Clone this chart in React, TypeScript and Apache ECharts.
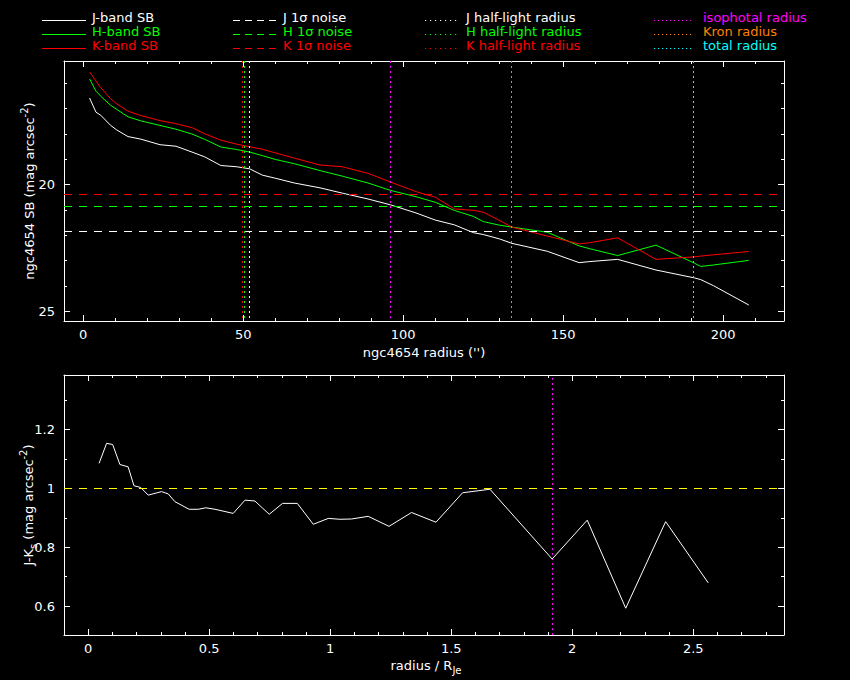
import { useEffect, useRef } from "react";
import * as echarts from "echarts";

// ---------- surface-brightness profiles (top panel) ----------
const radius = [2, 4, 5.5, 8.5, 10.5, 14, 18, 24, 29, 34, 38, 43, 48, 52, 56, 60, 66, 74, 81, 89, 96, 104, 110, 116, 122, 125, 130, 134, 145, 155, 158, 167, 179, 191, 193, 197, 208];
const jBandSB = [16.59, 17.15, 17.27, 17.66, 17.85, 18.11, 18.21, 18.43, 18.49, 18.72, 18.91, 19.25, 19.3, 19.38, 19.63, 19.75, 19.94, 20.13, 20.34, 20.57, 20.8, 21.12, 21.4, 21.59, 21.9, 21.97, 22.14, 22.32, 22.63, 23.08, 23.04, 22.95, 23.37, 23.68, 23.75, 23.99, 24.75];
const hBandSB = [15.84, 16.32, 16.52, 16.87, 17.04, 17.33, 17.49, 17.67, 17.82, 18.01, 18.22, 18.52, 18.62, 18.72, 18.86, 19.01, 19.18, 19.45, 19.67, 19.94, 20.23, 20.48, 20.7, 21.02, 21.26, 21.46, 21.6, 21.68, 21.88, 22.42, 22.52, 22.8, 22.39, 23.1, 23.23, 23.17, 22.99];
const kBandSB = [15.56, 15.92, 16.18, 16.61, 16.82, 17.11, 17.28, 17.48, 17.6, 17.76, 18.0, 18.25, 18.41, 18.51, 18.61, 18.75, 18.96, 19.23, 19.3, 19.56, 19.9, 20.28, 20.5, 20.96, 21.02, 21.09, 21.41, 21.68, 22.03, 22.34, 22.3, 22.1, 22.95, 22.85, 22.82, 22.77, 22.64];

const jNoise = 21.86;
const hNoise = 20.84;
const kNoise = 20.37;
const jHalfLight = 51.9;
const hHalfLight = 50.3;
const kHalfLight = 49.8;
const isophotalRadius = 95.9;
const kronRadius = 133.9;
const totalRadius = 190.6;

// ---------- colour profile (bottom panel) ----------
const scaledRadius = [0.045, 0.076, 0.101, 0.131, 0.165, 0.189, 0.217, 0.248, 0.303, 0.331, 0.358, 0.417, 0.455, 0.486, 0.524, 0.599, 0.648, 0.689, 0.748, 0.803, 0.864, 0.93, 0.992, 1.04, 1.088, 1.157, 1.243, 1.336, 1.437, 1.547, 1.66, 1.917, 2.062, 2.221, 2.386, 2.562];
const jMinusK = [1.085, 1.153, 1.149, 1.081, 1.073, 1.009, 1.003, 0.977, 0.989, 0.981, 0.955, 0.929, 0.929, 0.934, 0.929, 0.915, 0.96, 0.957, 0.912, 0.949, 0.949, 0.878, 0.898, 0.895, 0.896, 0.905, 0.871, 0.918, 0.885, 0.985, 0.997, 0.76, 0.892, 0.593, 0.887, 0.679];
const colourReference = 1.0;
const isophotalScaled = 1.9185;

// ---------- axis ranges & ticks ----------
const sbRangeX = [-6.0, 219.0];
const sbRangeY = [15.13, 25.38];
const colRangeX = [-0.1, 2.875];
const colRangeY = [0.502, 1.385];
const sbMajorX = [0, 50, 100, 150, 200];
const sbMinorX = [10, 20, 30, 40, 60, 70, 80, 90, 110, 120, 130, 140, 160, 170, 180, 190, 210];
const sbMajorY = [20, 25];
const sbMinorY = [16, 17, 18, 19, 21, 22, 23, 24];
const colMajorX = [0, 0.5, 1, 1.5, 2, 2.5];
const colMinorX = [0.1, 0.2, 0.3, 0.4, 0.6, 0.7, 0.8, 0.9, 1.1, 1.2, 1.3, 1.4, 1.6, 1.7, 1.8, 1.9, 2.1, 2.2, 2.3, 2.4, 2.6, 2.7, 2.8];
const colMajorY = [0.6, 0.8, 1, 1.2];
const colMinorY = [0.7, 0.9, 1.1, 1.3];

const FONT = '"DejaVu Sans", sans-serif';
const FS = 13;
const WHITE = "#ffffff";
const GREEN = "#00ff00";
const RED = "#ff0000";
const MAGENTA = "#ff00ff";
const ORANGE = "#ff8000";
const CYAN = "#00ffff";
const YELLOW = "#ffff00";

const fmt = (v: number) => String(Math.round(v * 100) / 100);

function axisSet(kind: "x" | "y", gridIndex: number, range: number[], major: number[], minor: number[], inverse = false) {
  const posA = kind === "x" ? "bottom" : "left";
  const posB = kind === "x" ? "top" : "right";
  const base: any = {
    type: "value",
    gridIndex,
    min: range[0],
    max: range[1],
    inverse,
    silent: true,
    splitLine: { show: false },
    axisLine: { show: false, onZero: false },
    axisLabel: { show: false },
    axisTick: { show: false },
  };
  const tick = (vals: number[], len: number) => ({ show: true, inside: true, length: len, customValues: vals, lineStyle: { color: WHITE, width: 1 } });
  return [
    {
      ...base,
      position: posA,
      axisLine: { show: true, onZero: false, lineStyle: { color: WHITE, width: 1 } },
      axisTick: tick(major, 6),
      axisLabel: { show: true, customValues: major, color: WHITE, fontFamily: FONT, fontSize: FS, margin: kind === "x" ? 7 : 9, formatter: fmt },
    },
    { ...base, position: posA, axisTick: tick(minor, 3) },
    { ...base, position: posB, axisLine: { show: true, onZero: false, lineStyle: { color: WHITE, width: 1 } }, axisTick: tick(major, 6) },
    { ...base, position: posB, axisTick: tick(minor, 3) },
  ];
}

const vLine = (x: number, color: string) => ({ xAxis: x, lineStyle: { color, type: [2, 3], width: 1, opacity: 1 } });
const hLine = (y: number, color: string) => ({ yAxis: y, lineStyle: { color, type: [8, 7], width: 1, opacity: 1 } });

function legendItems() {
  const rows = [17, 31, 45];
  const out: any[] = [];
  const add = (x1: number, x2: number, tx: number, row: number, color: string, dash: number[] | null, label: string) => {
    out.push({
      type: "line",
      shape: { x1, y1: rows[row] + 3.5, x2, y2: rows[row] + 3.5 },
      style: { stroke: color, lineWidth: 1, lineDash: dash || undefined },
      silent: true,
    });
    out.push({
      type: "text",
      x: tx,
      y: rows[row],
      style: { text: label, fill: color, fontFamily: FONT, fontSize: FS, verticalAlign: "middle", align: "left" },
      silent: true,
    });
  };
  add(42, 86, 92, 0, WHITE, null, "J-band SB");
  add(42, 86, 92, 1, GREEN, null, "H-band SB");
  add(42, 86, 92, 2, RED, null, "K-band SB");
  add(233, 277, 283, 0, WHITE, [7, 5], "J 1σ noise");
  add(233, 277, 283, 1, GREEN, [7, 5], "H 1σ noise");
  add(233, 277, 283, 2, RED, [7, 5], "K 1σ noise");
  add(425, 457, 466, 0, WHITE, [1.2, 3.8], "J half-light radius");
  add(425, 457, 466, 1, GREEN, [1.2, 3.8], "H half-light radius");
  add(425, 457, 466, 2, RED, [1.2, 3.8], "K half-light radius");
  add(654, 693, 703, 0, MAGENTA, [1.2, 2.8], "isophotal radius");
  add(654, 693, 703, 1, ORANGE, [1.2, 2.8], "Kron radius");
  add(654, 693, 703, 2, CYAN, [1.2, 2.8], "total radius");
  return out;
}

const titleStyle = (text: string) => ({
  text,
  fill: WHITE,
  fontFamily: FONT,
  fontSize: FS,
  lineHeight: 20,
  align: "center",
  verticalAlign: "middle",
  rich: {
    sup: { fontSize: 10, lineHeight: 10, verticalAlign: "top", fill: WHITE, fontFamily: FONT },
    sub: { fontSize: 10, lineHeight: 10, verticalAlign: "bottom", fill: WHITE, fontFamily: FONT },
  },
});

export default function App() {
  const ref = useRef<HTMLDivElement>(null);
  useEffect(() => {
    if (!ref.current) return;
    const chart = echarts.init(ref.current, null, { renderer: "svg" });
    const sbLine = (name: string, values: number[], color: string, marks: any[]) => ({
      name,
      type: "line",
      xAxisIndex: 0,
      yAxisIndex: 0,
      data: radius.map((r, i) => [r, values[i]]),
      symbol: "none",
      lineStyle: { color, width: 1 },
      itemStyle: { color },
      silent: true,
      markLine: { silent: true, symbol: ["none", "none"], label: { show: false }, data: marks },
    });
    chart.setOption({
      animation: false,
      backgroundColor: "#000000",
      grid: [
        { left: 64, top: 61, width: 720, height: 260 },
        { left: 64, top: 375, width: 720, height: 260 },
      ],
      xAxis: [...axisSet("x", 0, sbRangeX, sbMajorX, sbMinorX), ...axisSet("x", 1, colRangeX, colMajorX, colMinorX)],
      yAxis: [...axisSet("y", 0, sbRangeY, sbMajorY, sbMinorY, true), ...axisSet("y", 1, colRangeY, colMajorY, colMinorY)],
      series: [
        sbLine("J-band SB", jBandSB, WHITE, [hLine(jNoise, WHITE), vLine(jHalfLight, WHITE), vLine(isophotalRadius, MAGENTA), vLine(kronRadius, ORANGE), vLine(totalRadius, CYAN)]),
        sbLine("H-band SB", hBandSB, GREEN, [hLine(hNoise, GREEN), vLine(hHalfLight, GREEN)]),
        sbLine("K-band SB", kBandSB, RED, [hLine(kNoise, RED), vLine(kHalfLight, RED)]),
        {
          name: "isophotal radius (scaled)",
          type: "line",
          xAxisIndex: 4,
          yAxisIndex: 4,
          data: [
            [isophotalScaled, colRangeY[0]],
            [isophotalScaled, colRangeY[1]],
          ],
          symbol: "none",
          lineStyle: { color: MAGENTA, width: 1, type: [2, 3] },
          itemStyle: { color: MAGENTA },
          silent: true,
        },
        {
          name: "J-K",
          type: "line",
          xAxisIndex: 4,
          yAxisIndex: 4,
          data: scaledRadius.map((r, i) => [r, jMinusK[i]]),
          symbol: "none",
          lineStyle: { color: WHITE, width: 1 },
          itemStyle: { color: WHITE },
          silent: true,
          markLine: {
            silent: true,
            symbol: ["none", "none"],
            label: { show: false },
            data: [hLine(colourReference, YELLOW)],
          },
        },
      ],
      graphic: [
        ...legendItems(),
        { type: "text", x: 424, y: 352, silent: true, style: titleStyle("ngc4654 radius ('')") },
        { type: "text", x: 29, y: 191, rotation: Math.PI / 2, silent: true, style: titleStyle("ngc4654 SB (mag arcsec{sup|-2})") },
        { type: "text", x: 426, y: 665, silent: true, style: titleStyle("radius / R{sub|Je}") },
        { type: "text", x: 28, y: 505, rotation: Math.PI / 2, silent: true, style: titleStyle("J-K{sub|s} (mag arcsec{sup|-2})") },
      ],
    });
    return () => chart.dispose();
  }, []);
  return <div ref={ref} style={{ position: "fixed", left: 0, top: 0, width: 850, height: 680, background: "#000" }} />;
}
